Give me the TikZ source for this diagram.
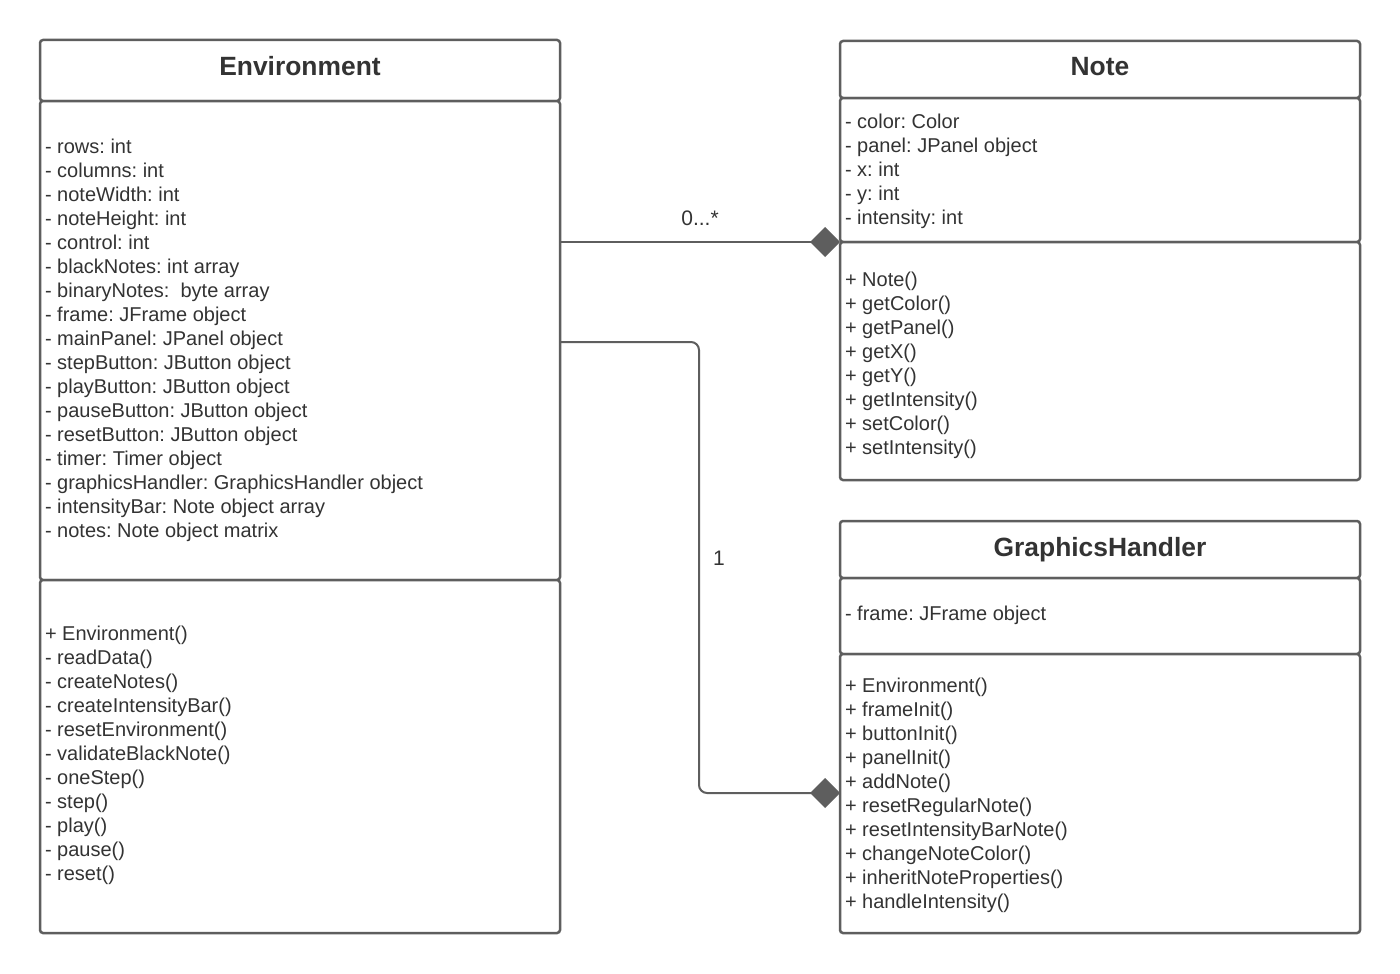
\documentclass[tikz,border=0pt]{standalone}
\usepackage{fontspec}
\setmainfont{Liberation Sans}
\usetikzlibrary{arrows.meta}
\definecolor{linec}{HTML}{5E5E5E}
\definecolor{txtc}{HTML}{333333}
\frenchspacing
\begin{document}
\begin{tikzpicture}[x=1pt,y=-1pt,
  comp/.style={draw=linec, line width=2.5pt, rounded corners=3pt, fill=white,
    inner sep=0pt, outer sep=0pt, anchor=north west, minimum width=520pt},
  attr/.style={anchor=base west, inner sep=0pt, outer sep=0pt, text=txtc,
    font=\fontsize{20}{24}\selectfont},
  lbl/.style={anchor=center, inner sep=0pt, outer sep=0pt, text=txtc,
    font=\fontsize{21}{24}\selectfont},
  head/.style={anchor=base, inner sep=0pt, text=txtc,
    font=\bfseries\fontsize{26.4}{30}\selectfont},
  conn/.style={draw=linec, line width=2pt},
  dia/.style={-{Diamond[length=30pt,width=30pt]}}]
\fill[white] (0,0) rectangle (1400,974);
\useasboundingbox (0,0) rectangle (1400,974);

% Environment
\node[comp, minimum height=61pt] (envH) at (40,40) {};
\node[comp, minimum height=479pt] (envA) at (40,101) {};
\node[comp, minimum height=353pt] (envM) at (40,580) {};
\node[head] (envT) at (300,76) {Environment};
\foreach \t [count=\i] in {- rows: int, - columns: int, - noteWidth: int, - noteHeight: int,
  - control: int, - blackNotes: int array, - binaryNotes:\ \ byte array, - frame: JFrame object,
  - mainPanel: JPanel object, - stepButton: JButton object, - playButton: JButton object,
  - pauseButton: JButton object, - resetButton: JButton object, - timer: Timer object,
  - graphicsHandler: GraphicsHandler object, - intensityBar: Note object array,
  - notes: Note object matrix}
  \node[attr] (envA\i) at (45,{153+24*(\i-1)}) {\t};
\foreach \t [count=\i] in {+ Environment(), - readData(), - createNotes(), - createIntensityBar(),
  - resetEnvironment(), - validateBlackNote(), - oneStep(), - step(), - play(), - pause(), - reset()}
  \node[attr] (envM\i) at (45,{640+24*(\i-1)}) {\t};

% Note
\node[comp, minimum height=57pt] (noteH) at (840,41) {};
\node[comp, minimum height=144pt] (noteA) at (840,98) {};
\node[comp, minimum height=238pt] (noteM) at (840,242) {};
\node[head] (noteT) at (1100,76) {Note};
\foreach \t [count=\i] in {- color: Color, - panel: JPanel object, - x: int, - y: int, - intensity: int}
  \node[attr] (noteA\i) at (845,{128+24*(\i-1)}) {\t};
\foreach \t [count=\i] in {+ Note(), + getColor(), + getPanel(), + getX(), + getY(),
  + getIntensity(), + setColor(), + setIntensity()}
  \node[attr] (noteM\i) at (845,{286+24*(\i-1)}) {\t};

% GraphicsHandler
\node[comp, minimum height=57pt] (ghH) at (840,521) {};
\node[comp, minimum height=76pt] (ghA) at (840,578) {};
\node[comp, minimum height=279pt] (ghM) at (840,654) {};
\node[head] (ghT) at (1100,556) {GraphicsHandler};
\node[attr] (ghA1) at (845,620) {- frame: JFrame object};
\foreach \t [count=\i] in {+ Environment(), + frameInit(), + buttonInit(), + panelInit(),
  + addNote(), + resetRegularNote(), + resetIntensityBarNote(), + changeNoteColor(),
  + inheritNoteProperties(), + handleIntensity()}
  \node[attr] (ghM\i) at (845,{692+24*(\i-1)}) {\t};

% connectors
\coordinate (ghIn) at (ghM.west |- 0,793);
\draw[conn, dia] (envA.east |- noteA.south west) -- (noteA.south west);
\draw[conn, dia, rounded corners=8pt] (envA.east |- 0,342) -| (699,793) -- (ghIn);
\node[lbl] (lblA) at (700,218) {0...*};
\node[lbl] (lblB) at (719,558) {1};
\end{tikzpicture}
\end{document}
